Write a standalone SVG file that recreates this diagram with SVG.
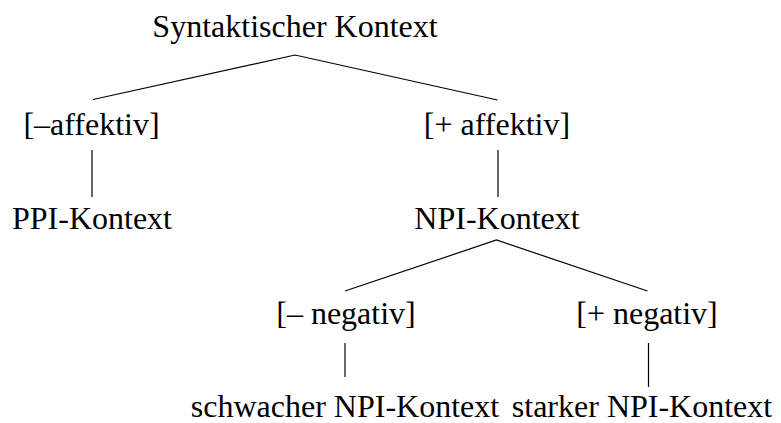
<svg xmlns="http://www.w3.org/2000/svg" width="781" height="423" viewBox="0 0 781 423">
  <style>
    .lbl { font-family: "Liberation Serif", "Times New Roman", serif; font-size: 32px; fill: #000; text-anchor: middle; }
    .edge { stroke: #000; stroke-width: 1.2; fill: none; }
  </style>
  <rect width="781" height="423" fill="#fff"/>

  <!-- tree edges -->
  <g id="connectors">
    <polyline class="edge" points="93,99.5 295,55 497.5,100"/>
    <line class="edge" x1="92" y1="150" x2="92" y2="197"/>
    <line class="edge" x1="498" y1="150" x2="498" y2="197"/>
    <polyline class="edge" points="345,291 496.5,240 647.5,291"/>
    <line class="edge" x1="345" y1="343" x2="345" y2="377"/>
    <line class="edge" x1="648.5" y1="343" x2="648.5" y2="387"/>
  </g>

  <g id="root"><text class="lbl" x="295" y="37">Syntaktischer Kontext</text></g>
  <g id="minus-affektiv"><text class="lbl" x="91.5" y="135">[–affektiv]</text></g>
  <g id="plus-affektiv"><text class="lbl" x="497" y="135">[+ affektiv]</text></g>
  <g id="ppi"><text class="lbl" x="92" y="229">PPI-Kontext</text></g>
  <g id="npi"><text class="lbl" x="497" y="229">NPI-Kontext</text></g>
  <g id="minus-negativ"><text class="lbl" x="346" y="324">[– negativ]</text></g>
  <g id="plus-negativ"><text class="lbl" x="647" y="324">[+ negativ]</text></g>
  <g id="weak-npi"><text class="lbl" x="345" y="417">schwacher NPI-Kontext</text></g>
  <g id="strong-npi"><text class="lbl" x="642" y="417">starker NPI-Kontext</text></g>
</svg>
